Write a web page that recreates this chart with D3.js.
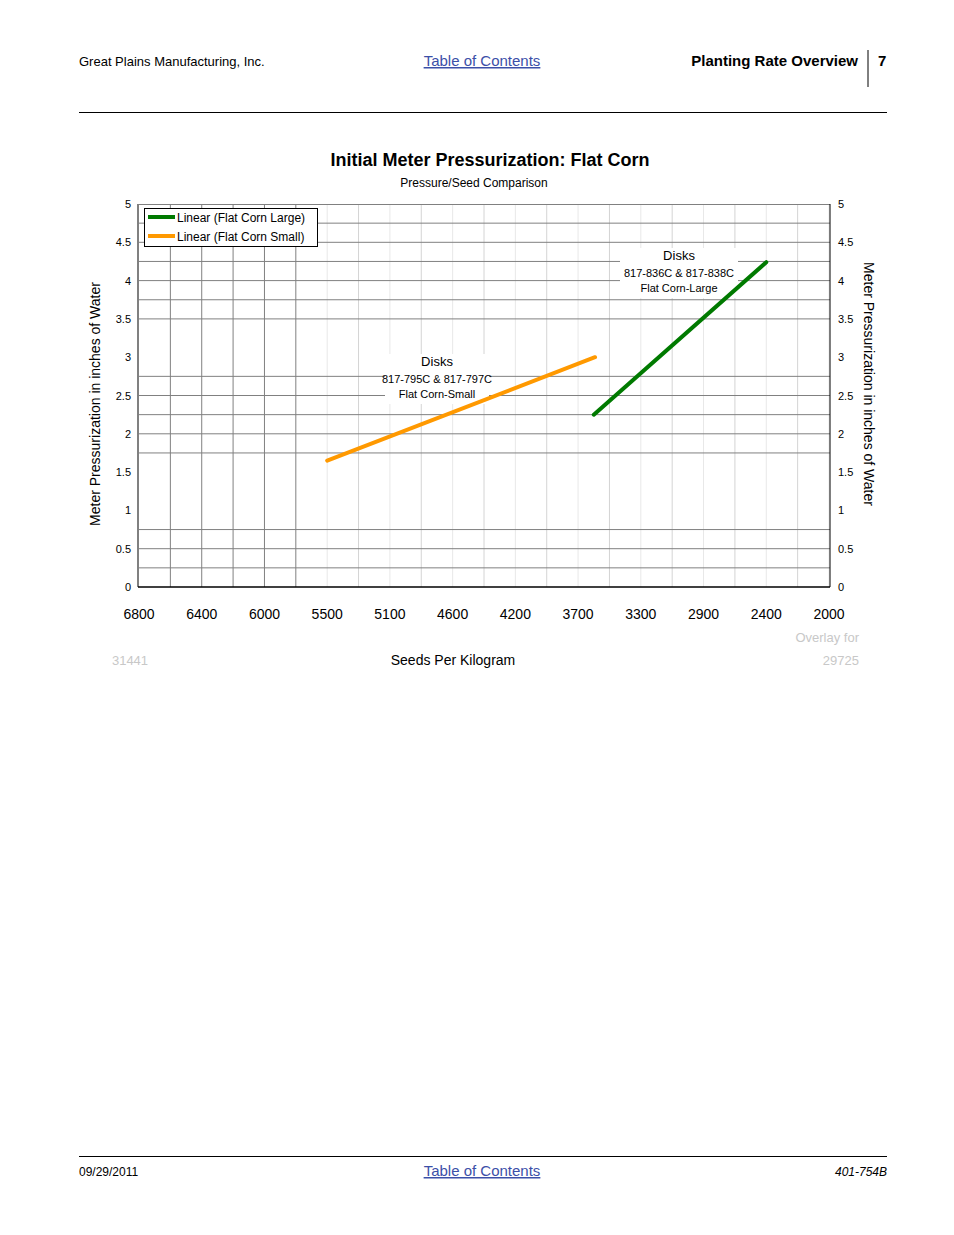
<!DOCTYPE html>
<html><head><meta charset="utf-8">
<script src="https://cdn.jsdelivr.net/npm/d3@7"></script>
<style>body{margin:0;background:#fff;font-family:"Liberation Sans",Arial,sans-serif}</style>
</head><body><div id="chart"></div>
<script>
var xLabels = ["6800","6400","6000","5500","5100","4600","4200","3700","3300","2900","2400","2000"];
var yTicks = [0,0.5,1,1.5,2,2.5,3,3.5,4,4.5,5];
var hGrid = [0.25,0.5,0.75,1.75,2,2.25,2.5,2.75,3.5,3.75,4,4.25,4.5,4.75];
var darkV = [0.5,1,1.5,2,2.5];
var lightV = [3,3.5,4,4.5,5,5.5,6,6.5,7,7.5,8,8.5,9,9.5,10,10.5,11];
var smallSeries = [{x:3,y:1.65},{x:7.27,y:3.0}];
var largeSeries = [{x:7.25,y:2.25},{x:10,y:4.24}];

var svg = d3.select("#chart").append("svg").attr("width",954).attr("height",1235);
var pLeft=138, pRight=830, pTop=204, pBottom=587;
var x = d3.scaleLinear().domain([0,11]).range([pLeft+1,pRight-1]);
var y = d3.scaleLinear().domain([0,5]).range([pBottom,pTop]);

// page header / footer
svg.append("text").attr("x",79).attr("y",66).attr("font-size",13).text("Great Plains Manufacturing, Inc.");
svg.append("text").attr("x",482).attr("y",66).attr("font-size",15).attr("text-anchor","middle").attr("fill","#3b4fa8").attr("text-decoration","underline").text("Table of Contents");
svg.append("text").attr("x",858).attr("y",66).attr("font-size",15).attr("font-weight","bold").attr("text-anchor","end").text("Planting Rate Overview");
svg.append("line").attr("x1",868).attr("x2",868).attr("y1",50).attr("y2",87).attr("stroke","#000");
svg.append("text").attr("x",878).attr("y",66).attr("font-size",15).attr("font-weight","bold").text("7");
svg.append("line").attr("x1",79).attr("x2",887).attr("y1",112.5).attr("y2",112.5).attr("stroke","#000");
svg.append("line").attr("x1",79).attr("x2",887).attr("y1",1156.5).attr("y2",1156.5).attr("stroke","#000");
svg.append("text").attr("x",79).attr("y",1176).attr("font-size",12).text("09/29/2011");
svg.append("text").attr("x",482).attr("y",1176).attr("font-size",15).attr("text-anchor","middle").attr("fill","#3b4fa8").attr("text-decoration","underline").text("Table of Contents");
svg.append("text").attr("x",887).attr("y",1176).attr("font-size",12).attr("font-style","italic").attr("text-anchor","end").text("401-754B");

// titles
svg.append("text").attr("x",490).attr("y",166).attr("font-size",18).attr("font-weight","bold").attr("text-anchor","middle").text("Initial Meter Pressurization: Flat Corn");
svg.append("text").attr("x",474).attr("y",187).attr("font-size",12).attr("text-anchor","middle").text("Pressure/Seed Comparison");

// grid
var g = svg.append("g");
g.selectAll(".lv").data(lightV).enter().append("line")
  .attr("x1",d=>x(d)).attr("x2",d=>x(d)).attr("y1",pTop).attr("y2",pBottom)
  .attr("stroke",(d,i)=>i%2?"#d4d4d4":"#e8e8e8");
g.selectAll(".hg").data(hGrid).enter().append("line")
  .attr("x1",pLeft).attr("x2",pRight).attr("y1",d=>y(d)).attr("y2",d=>y(d)).attr("stroke","#808080");
g.selectAll(".dv").data(darkV).enter().append("line")
  .attr("x1",d=>x(d)).attr("x2",d=>x(d)).attr("y1",pTop).attr("y2",pBottom).attr("stroke","#808080");
g.append("line").attr("x1",pLeft).attr("x2",pRight).attr("y1",pTop+0.5).attr("y2",pTop+0.5).attr("stroke","#808080");
g.append("line").attr("x1",pLeft).attr("x2",pLeft).attr("y1",pTop).attr("y2",pBottom).attr("stroke","#808080").attr("stroke-width",2);
g.append("line").attr("x1",pRight).attr("x2",pRight).attr("y1",pTop).attr("y2",pBottom).attr("stroke","#000");
g.append("line").attr("x1",pLeft).attr("x2",pRight).attr("y1",pBottom).attr("y2",pBottom).attr("stroke","#000").attr("stroke-width",1.5);

// axes labels
svg.selectAll(".yl").data(yTicks).enter().append("text")
  .attr("x",131).attr("y",d=>y(d)+4).attr("font-size",11).attr("text-anchor","end").text(d=>d);
svg.selectAll(".yr").data(yTicks).enter().append("text")
  .attr("x",838).attr("y",d=>y(d)+4).attr("font-size",11).text(d=>d);
svg.selectAll(".xl").data(xLabels).enter().append("text")
  .attr("x",(d,i)=>x(i)).attr("y",619).attr("font-size",14).attr("text-anchor","middle").text(d=>d);
svg.append("text").attr("x",453).attr("y",665).attr("font-size",14).attr("text-anchor","middle").text("Seeds Per Kilogram");
svg.append("text").attr("x",130).attr("y",665).attr("font-size",13).attr("text-anchor","middle").attr("fill","#c8c8c8").text("31441");
svg.append("text").attr("x",859).attr("y",665).attr("font-size",13).attr("text-anchor","end").attr("fill","#c8c8c8").text("29725");
svg.append("text").attr("x",859).attr("y",642).attr("font-size",13).attr("text-anchor","end").attr("fill","#c8c8c8").text("Overlay for");
svg.append("text").attr("transform","translate(100,404) rotate(-90)").attr("font-size",14).attr("text-anchor","middle").text("Meter Pressurization in inches of Water");
svg.append("text").attr("transform","translate(864,384) rotate(90)").attr("font-size",14).attr("text-anchor","middle").text("Meter Pressurization in inches of Water");

// annotations
function note(cx, cy, w, lines){
  svg.append("rect").attr("x",cx-w/2).attr("y",cy-12).attr("width",w).attr("height",50).attr("fill","#fff");
  svg.append("text").attr("x",cx).attr("y",cy).attr("font-size",13).attr("text-anchor","middle").text(lines[0]);
  svg.append("text").attr("x",cx).attr("y",cy+17).attr("font-size",11).attr("text-anchor","middle").text(lines[1]);
  svg.append("text").attr("x",cx).attr("y",cy+32).attr("font-size",11).attr("text-anchor","middle").text(lines[2]);
}
note(437,366,104,["Disks","817-795C & 817-797C","Flat Corn-Small"]);
note(679,260,118,["Disks","817-836C & 817-838C","Flat Corn-Large"]);

// series
var line = d3.line().x(d=>x(d.x)).y(d=>y(d.y));
svg.append("path").datum(smallSeries).attr("d",line).attr("stroke","#ff9900").attr("stroke-width",4).attr("fill","none").attr("stroke-linecap","round");
svg.append("path").datum(largeSeries).attr("d",line).attr("stroke","#007a00").attr("stroke-width",4).attr("fill","none").attr("stroke-linecap","round");

// legend
var lg = svg.append("g");
lg.append("rect").attr("x",144.5).attr("y",208.5).attr("width",173).attr("height",38).attr("fill","#fff").attr("stroke","#000");
[["Linear (Flat Corn Large)","#007a00"],["Linear (Flat Corn Small)","#ff9900"]].forEach(function(d,i){
  lg.append("line").attr("x1",148).attr("x2",175).attr("y1",217+i*19).attr("y2",217+i*19).attr("stroke",d[1]).attr("stroke-width",4);
  lg.append("text").attr("x",177).attr("y",222+i*19).attr("font-size",12).text(d[0]);
});
</script></body></html>
